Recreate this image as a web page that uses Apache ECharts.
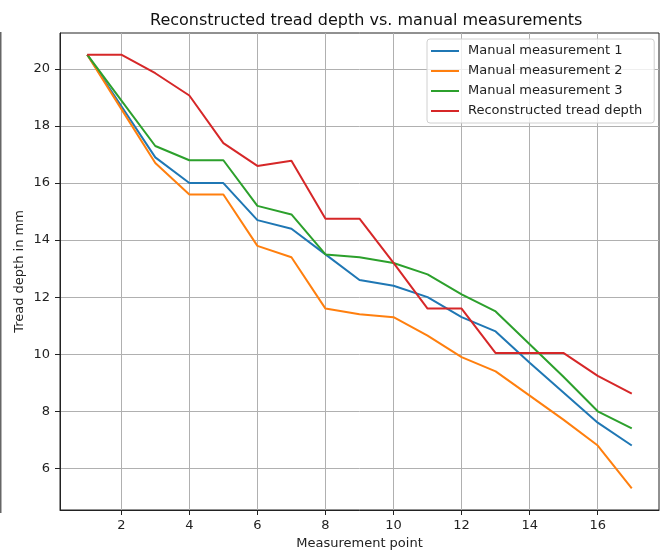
<!DOCTYPE html>
<html>
<head>
<meta charset="utf-8">
<script src="https://cdn.jsdelivr.net/npm/echarts@6/dist/echarts.min.js"></script>
<style>
  html, body { margin: 0; padding: 0; background: #fff; }
  #chart { width: 663px; height: 555px; }
</style>
</head>
<body>
<div id="chart"></div>
<script>
const points = [1, 2, 3, 4, 5, 6, 7, 8, 9, 10, 11, 12, 13, 14, 15, 16, 17];
const manual1 = [20.5, 18.7, 16.9, 16.0, 16.0, 14.7, 14.4, 13.5, 12.6, 12.4, 12.0, 11.3, 10.8, 9.7, 8.65, 7.6, 6.8];
const manual2 = [20.5, 18.6, 16.7, 15.6, 15.6, 13.8, 13.4, 11.6, 11.4, 11.3, 10.65, 9.9, 9.4, 8.55, 7.7, 6.8, 5.3];
const manual3 = [20.5, 18.9, 17.3, 16.8, 16.8, 15.2, 14.9, 13.5, 13.4, 13.2, 12.8, 12.1, 11.5, 10.35, 9.2, 8.0, 7.4];
const reconstructed = [20.5, 20.5, 19.85, 19.07, 17.4, 16.6, 16.78, 14.75, 14.75, 13.2, 11.6, 11.6, 10.04, 10.04, 10.04, 9.24, 8.62];
const xTicks = [2, 4, 6, 8, 10, 12, 14, 16];
const yTicks = [6, 8, 10, 12, 14, 16, 18, 20];

const seriesDefs = [
  { name: 'Manual measurement 1', data: manual1, color: '#1f77b4' },
  { name: 'Manual measurement 2', data: manual2, color: '#ff7f0e' },
  { name: 'Manual measurement 3', data: manual3, color: '#2ca02c' },
  { name: 'Reconstructed tread depth', data: reconstructed, color: '#d62728' },
];

const font = 'DejaVu Sans';
const chart = echarts.init(document.getElementById('chart'), null, { renderer: 'canvas' });

function axisStyle(ticks) {
  return {
    axisLine: { show: true, lineStyle: { color: '#222', width: 1 } },
    axisTick: { show: true, length: 5, customValues: ticks, lineStyle: { color: '#222', width: 1 } },
    splitLine: { show: true, lineStyle: { color: '#b0b0b0', width: 1 } },
    nameTextStyle: { color: '#222', fontSize: 13, fontFamily: font },
    nameLocation: 'middle',
    nameMoveOverlap: false,
  };
}

chart.setOption({
  animation: false,
  backgroundColor: '#fff',
  title: {
    text: 'Reconstructed tread depth vs. manual measurements',
    left: 145,
    top: 8,
    textStyle: { color: '#111', fontSize: 16, fontWeight: 'normal', fontFamily: font },
  },
  legend: {
    orient: 'vertical',
    left: 427,
    top: 39,
    padding: [2, 12, 2, 4],
    itemGap: 0,
    itemWidth: 28,
    itemHeight: 2,
    icon: 'rect',
    backgroundColor: 'rgba(255,255,255,0.8)',
    borderColor: '#d0d0d0',
    borderWidth: 1,
    borderRadius: 3,
    textStyle: { color: '#222', fontSize: 13, fontFamily: font, lineHeight: 20, padding: [0, 0, 0, 4] },
    data: seriesDefs.map((s) => s.name),
  },
  grid: {
    left: 60, right: 4, top: 33, bottom: 42,
    show: true, borderColor: '#222', borderWidth: 1,
  },
  xAxis: {
    type: 'value',
    min: 0.2,
    max: 17.8,
    splitNumber: 9,
    name: 'Measurement point',
    nameGap: 27,
    ...axisStyle(xTicks),
    axisLabel: { customValues: xTicks, color: '#222', fontSize: 13, fontFamily: font, margin: 9 },
  },
  yAxis: {
    type: 'value',
    min: 4.54,
    max: 21.26,
    splitNumber: 8,
    name: 'Tread depth in mm',
    nameGap: 34,
    ...axisStyle(yTicks),
    axisLabel: { customValues: yTicks, color: '#222', fontSize: 13, fontFamily: font, margin: 10 },
  },
  graphic: [{
    type: 'rect',
    shape: { x: 0, y: 32, width: 1.5, height: 481 },
    style: { fill: '#666' },
  }],
  series: seriesDefs.map((s) => ({
    name: s.name,
    type: 'line',
    data: points.map((p, i) => [p, s.data[i]]),
    symbol: 'none',
    color: s.color,
    lineStyle: { width: 2, color: s.color },
  })),
});
</script>
</body>
</html>
